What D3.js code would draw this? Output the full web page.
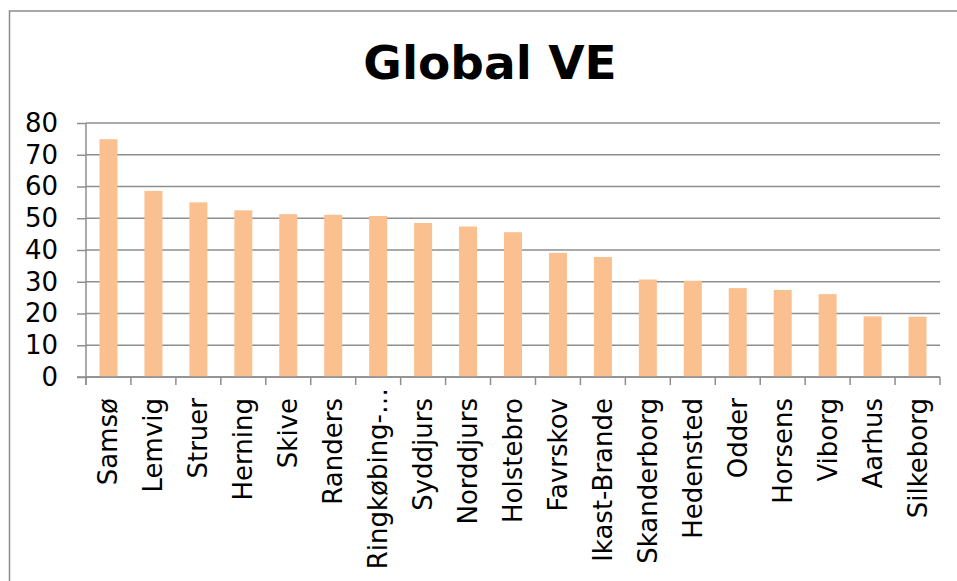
<!DOCTYPE html>
<html>
<head>
<meta charset="utf-8">
<script src="https://cdn.jsdelivr.net/npm/d3@7"></script>
<style>
  html, body { margin: 0; padding: 0; background: #fff; }
  svg { display: block; }
  text { font-family: "DejaVu Sans", Verdana, sans-serif; fill: #000; }
</style>
</head>
<body>
<svg id="chart" width="957" height="581"></svg>
<script>
const title = "Global VE";
const categories = ["Samsø","Lemvig","Struer","Herning","Skive","Randers","Ringkøbing-…","Syddjurs","Norddjurs","Holstebro","Favrskov","Ikast-Brande","Skanderborg","Hedensted","Odder","Horsens","Viborg","Aarhus","Silkeborg"];
const values = [74.9, 58.6, 55.0, 52.5, 51.3, 51.1, 50.7, 48.5, 47.4, 45.6, 39.1, 37.8, 30.7, 30.3, 28.0, 27.4, 26.1, 19.1, 19.0];
const yTicks = [0, 10, 20, 30, 40, 50, 60, 70, 80];

const svg = d3.select("#chart");
const W = 957, H = 581;
const plot = { left: 86, right: 940, top: 123, bottom: 377 };
const gridColor = "#8e8e8e";

// outer chart border
svg.append("rect")
  .attr("x", 9.5).attr("y", 11)
  .attr("width", W + 20).attr("height", H + 20)
  .attr("fill", "none").attr("stroke", "#8c8c8c").attr("stroke-width", 1.5);

// title
svg.append("text")
  .attr("x", 490).attr("y", 79)
  .attr("text-anchor", "middle")
  .style("font-size", "47px").style("font-weight", "bold")
  .text(title);

const x = d3.scaleBand().domain(categories).range([plot.left, plot.right]).paddingInner(0.6).paddingOuter(0.3);
const xOuter = d3.scaleBand().domain(categories).range([plot.left, plot.right]);
const y = d3.scaleLinear().domain([0, 80]).range([plot.bottom, plot.top]);

// gridlines + y ticks
const yAxis = d3.axisLeft(y).tickValues(yTicks).tickSize(9).tickPadding(19).tickFormat(d3.format("d"));
const gy = svg.append("g").attr("transform", `translate(${plot.left},0)`).call(yAxis);
gy.select(".domain").remove();
gy.selectAll(".tick line").attr("stroke", gridColor).attr("stroke-width", 1.5);
gy.selectAll(".tick text").style("font-size", "26px").attr("font-family", null);

svg.append("g").selectAll("line.grid").data(yTicks).join("line")
  .attr("x1", plot.left).attr("x2", plot.right)
  .attr("y1", d => y(d)).attr("y2", d => y(d))
  .attr("stroke", gridColor).attr("stroke-width", 1.5);

// bars
svg.append("g").selectAll("rect").data(values).join("rect")
  .attr("x", (d, i) => xOuter(categories[i]) + xOuter.bandwidth() / 2 - 9)
  .attr("width", 18)
  .attr("y", d => y(d))
  .attr("height", d => y(0) - y(d))
  .attr("fill", "#fac090");

// y axis line
svg.append("line")
  .attr("x1", plot.left).attr("x2", plot.left)
  .attr("y1", plot.top).attr("y2", plot.bottom + 8)
  .attr("stroke", gridColor).attr("stroke-width", 1.5);

// x axis line
svg.append("line")
  .attr("x1", plot.left - 9).attr("x2", plot.right)
  .attr("y1", plot.bottom).attr("y2", plot.bottom)
  .attr("stroke", gridColor).attr("stroke-width", 1.5);

// x ticks at category boundaries
const bounds = categories.map(c => xOuter(c)).concat([plot.right]);
svg.append("g").selectAll("line").data(bounds).join("line")
  .attr("x1", d => d).attr("x2", d => d)
  .attr("y1", plot.bottom).attr("y2", plot.bottom + 8)
  .attr("stroke", gridColor).attr("stroke-width", 1.5);

// x labels
svg.append("g").selectAll("text").data(categories).join("text")
  .attr("transform", c => `translate(${xOuter(c) + xOuter.bandwidth() / 2 + 9},${c.endsWith("…") ? 388 : 398}) rotate(-90)`)
  .attr("text-anchor", "end")
  .style("font-size", "26px")
  .text(c => c);
</script>
</body>
</html>
